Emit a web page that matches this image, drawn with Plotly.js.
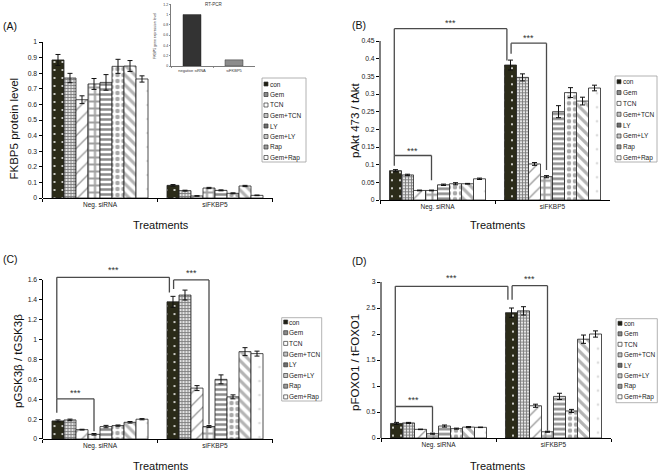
<!DOCTYPE html>
<html><head><meta charset="utf-8">
<script src="https://cdn.plot.ly/plotly-3.0.1.min.js"></script>
<style>html,body{margin:0;padding:0;background:#fff}#chart{width:660px;height:473px}</style>
</head><body><div id="chart"></div>
<script>
// ---------- data ----------
const categories = ['Neg. siRNA', 'siFKBP5'];
const treatments = ['con', 'Gem', 'TCN', 'Gem+TCN', 'LY', 'Gem+LY', 'Rap', 'Gem+Rap'];

const fkbp5Neg    = [0.885, 0.769, 0.630, 0.731, 0.741, 0.844, 0.846, 0.763];
const fkbp5NegErr = [0.035, 0.030, 0.025, 0.035, 0.050, 0.045, 0.035, 0.020];
const fkbp5Si     = [0.081, 0.047, 0.013, 0.064, 0.049, 0.030, 0.077, 0.017];
const fkbp5SiErr  = [0.005, 0.003, 0.002, 0.004, 0.003, 0.003, 0.004, 0.002];

const paktNeg    = [0.083, 0.071, 0.027, 0.027, 0.043, 0.046, 0.046, 0.060];
const paktNegErr = [0.003, 0.002, 0.001, 0.001, 0.002, 0.003, 0.001, 0.002];
const paktSi     = [0.382, 0.347, 0.102, 0.066, 0.250, 0.304, 0.280, 0.317];
const paktSiErr  = [0.014, 0.010, 0.004, 0.003, 0.017, 0.014, 0.011, 0.008];

const gskNeg    = [0.182, 0.192, 0.094, 0.047, 0.125, 0.135, 0.168, 0.199];
const gskNegErr = [0.010, 0.008, 0.004, 0.008, 0.012, 0.006, 0.008, 0.006];
const gskSi     = [1.380, 1.448, 0.512, 0.125, 0.600, 0.424, 0.879, 0.859];
const gskSiErr  = [0.055, 0.050, 0.025, 0.010, 0.045, 0.020, 0.040, 0.025];

const foxoNeg    = [0.280, 0.290, 0.166, 0.083, 0.230, 0.180, 0.210, 0.205];
const foxoNegErr = [0.020, 0.010, 0.005, 0.010, 0.020, 0.010, 0.010, 0.005];
const foxoSi     = [2.410, 2.445, 0.620, 0.120, 0.800, 0.520, 1.900, 2.000];
const foxoSiErr  = [0.090, 0.080, 0.030, 0.010, 0.060, 0.030, 0.080, 0.060];

const rtLabels = ['negative siRNA', 'siFKBP5'];
const rtValues = [1.0, 0.12];

const ticksA = [0, 0.1, 0.2, 0.3, 0.4, 0.5, 0.6, 0.7, 0.8, 0.9, 1];
const ticksB = [0, 0.05, 0.1, 0.15, 0.2, 0.25, 0.3, 0.35, 0.4, 0.45];
const ticksC = [0, 0.2, 0.4, 0.6, 0.8, 1, 1.2, 1.4, 1.6];
const ticksD = [0, 0.5, 1, 1.5, 2, 2.5, 3];
const ticksRT = [0, 0.2, 0.4, 0.6, 0.8, 1, 1.2];

// ---------- styles / layout helpers ----------
const W = 660, H = 473;
const px = x => x / W, py = y => 1 - y / H;
const FONT = 'Arial, "Liberation Sans", sans-serif';
const BARGAP = 0.165;

const barStyles = [
  {shape: '.', fg: '#ffffff', bg: '#2b2b19', size: 8, sol: 0.05},
  {shape: '+', fg: '#7a7a7a', bg: '#e4e4e4', size: 3, sol: 0.5},
  {shape: '/', fg: '#9a9a9a', bg: '#ffffff', size: 9, sol: 0.15},
  {shape: '+', fg: '#a0a0a0', bg: '#ffffff', size: 7, sol: 0.5},
  {shape: '-', fg: '#8a8a8a', bg: '#ffffff', size: 5, sol: 0.5},
  {shape: '.', fg: '#a8a8a8', bg: '#ffffff', size: 6, sol: 0.45},
  {shape: '\\', fg: '#b4b4b4', bg: '#ffffff', size: 7, sol: 0.45},
  {shape: '.', fg: '#dddddd', bg: '#ffffff', size: 14, sol: 0.03}
];
const swatchColors = ['#1e1e12', '#8a8a8a', '#ffffff', '#c4c4c4', '#6e6e6e', '#c8c8c8', '#9a9a9a', '#ffffff'];

const panels = [
  {ax: '', tag: '(A)', neg: fkbp5Neg, negErr: fkbp5NegErr, si: fkbp5Si, siErr: fkbp5SiErr,
   ticks: ticksA, xPx: [42.5, 272.5], y0: 198, ppu: 156, top: 1.0,
   ytitle: 'FKBP5 protein level', ytPos: [13.5, 129], tagPos: [9.5, 26], trPos: [161, 225],
   leg: {L: 262, R: 306, T: 78, B: 162, y0: 84, dy: 10.5}, brackets: []},
  {ax: '2', tag: '(B)', neg: paktNeg, negErr: paktNegErr, si: paktSi, siErr: paktSiErr,
   ticks: ticksB, xPx: [380, 610], y0: 200, ppu: 353.3, top: 0.52,
   ytitle: 'pAkt 473 / tAkt', ytPos: [355, 120], tagPos: [359, 25], trPos: [497.5, 225],
   leg: {L: 615, R: 657, T: 76, B: 162, y0: 81.7, dy: 10.86},
   brackets: [
     {a: [0, 0, -0.1], b: [0, 3, 0], ya: 0.097, yt: 0.126, yb: 0.056, ly: 0.140},
     {a: [0, 0, -0.1], b: [1, 0, -0.3], ya: 0.126, yt: 0.485, yb: 0.395, ly: 0.502},
     {a: [1, 0, 0.05], b: [1, 3, 0], ya: 0.414, yt: 0.444, yb: 0.085, ly: 0.458}
   ]},
  {ax: '3', tag: '(C)', neg: gskNeg, negErr: gskNegErr, si: gskSi, siErr: gskSiErr,
   ticks: ticksC, xPx: [42.5, 272.5], y0: 439, ppu: 99.4, top: 1.78,
   ytitle: 'pGSK3β / tGSK3β', ytPos: [18, 361], tagPos: [10, 259], trPos: [161, 466],
   leg: {L: 281.7, R: 321.7, T: 317.7, B: 401, y0: 322, dy: 10.7},
   brackets: [
     {a: [0, 0, -0.1], b: [0, 3, 0], ya: 0.263, yt: 0.404, yb: 0.077, ly: 0.465},
     {a: [0, 0, -0.1], b: [1, 0, -0.3], ya: 0.404, yt: 1.627, yb: 1.475, ly: 1.70},
     {a: [1, 0, 0.05], b: [1, 3, 0], ya: 1.51, yt: 1.60, yb: 0.145, ly: 1.667}
   ]},
  {ax: '4', tag: '(D)', neg: foxoNeg, negErr: foxoNegErr, si: foxoSi, siErr: foxoSiErr,
   ticks: ticksD, xPx: [381, 611], y0: 438, ppu: 52, top: 3.2,
   ytitle: 'pFOXO1 / tFOXO1', ytPos: [355, 363], tagPos: [359.5, 261], trPos: [497.5, 466],
   leg: {L: 616, R: 657.3, T: 318.7, B: 402.7, y0: 323.3, dy: 10.5},
   brackets: [
     {a: [0, 0, -0.1], b: [0, 3, 0], ya: 0.30, yt: 0.606, yb: 0.108, ly: 0.734},
     {a: [0, 0, -0.1], b: [1, 0, -0.3], ya: 0.606, yt: 2.916, yb: 2.66, ly: 3.076},
     {a: [1, 0, 0.05], b: [1, 3, 0], ya: 2.66, yt: 2.93, yb: 0.14, ly: 3.06}
   ]}
];

const nT = treatments.length;
const bw = (1 - BARGAP) / nT;
function barX(cat, i, dx) { return cat - (1 - BARGAP) / 2 + (i + 0.5) * bw + (dx || 0) * bw; }

const traces = [];
const shapes = [];
const annotations = [];
const layout = {
  width: W, height: H, autosize: false,
  margin: {l: 0, r: 0, t: 0, b: 0, pad: 0},
  paper_bgcolor: '#ffffff', plot_bgcolor: '#ffffff',
  font: {family: FONT, color: '#111111', size: 7},
  showlegend: false,
  barmode: 'group', bargap: BARGAP, bargroupgap: 0
};

panels.forEach(p => {
  const xa = 'x' + p.ax, ya = 'y' + p.ax;
  const xKey = 'xaxis' + p.ax, yKey = 'yaxis' + p.ax;
  const topPx = p.y0 - p.top * p.ppu;
  layout[xKey] = {
    domain: [px(p.xPx[0]), px(p.xPx[1])], anchor: ya, type: 'category',
    showline: true, linecolor: '#000', linewidth: 1, showgrid: false, zeroline: false,
    ticks: 'outside', tickson: 'boundaries', ticklen: 3, tickcolor: '#000', tickwidth: 1,
    tickfont: {size: 6.5, color: '#222', family: FONT}, fixedrange: true
  };
  layout[yKey] = {
    domain: [py(p.y0), py(topPx)], anchor: xa, range: [0, p.top],
    showline: false, showgrid: false, zeroline: false,
    tickmode: 'array', tickvals: p.ticks,
    ticks: 'outside', ticklen: 3, tickcolor: '#000', tickwidth: 1,
    tickfont: {size: 6.8, color: '#222', family: FONT}, fixedrange: true
  };
  // y axis line up to top tick
  shapes.push({type: 'line', xref: xa + ' domain', yref: ya, x0: 0, x1: 0,
    y0: 0, y1: p.ticks[p.ticks.length - 1], line: {color: '#000', width: 1}});

  treatments.forEach((t, i) => {
    const s = barStyles[i];
    traces.push({
      type: 'bar', name: t, x: categories, y: [p.neg[i], p.si[i]],
      xaxis: xa, yaxis: ya,
      marker: {color: s.bg, line: {color: '#222', width: 0.8},
        pattern: {shape: s.shape, fgcolor: s.fg, bgcolor: s.bg, size: s.size, solidity: s.sol, fillmode: 'replace'}},
      error_y: {type: 'data', array: [p.negErr[i], p.siErr[i]], visible: true, color: '#111', thickness: 1, width: 2.5},
      hoverinfo: 'skip'
    });
  });

  // significance brackets
  p.brackets.forEach(b => {
    const xA = barX(b.a[0], b.a[1], b.a[2]);
    const xB = barX(b.b[0], b.b[1], b.b[2]);
    const ln = {color: '#4a4a4a', width: 1.3};
    shapes.push({type: 'line', xref: xa, yref: ya, x0: xA, x1: xA, y0: b.ya, y1: b.yt, line: ln});
    shapes.push({type: 'line', xref: xa, yref: ya, x0: xA, x1: xB, y0: b.yt, y1: b.yt, line: ln});
    shapes.push({type: 'line', xref: xa, yref: ya, x0: xB, x1: xB, y0: b.yt, y1: b.yb, line: ln});
    annotations.push({xref: xa, yref: ya, x: (xA + xB) / 2, y: b.ly, text: '***', showarrow: false,
      xanchor: 'center', yanchor: 'middle', font: {size: 9, color: '#333', family: FONT}});
  });

  // titles and tags
  annotations.push({xref: 'paper', yref: 'paper', x: px(p.ytPos[0]), y: py(p.ytPos[1]), text: p.ytitle,
    textangle: -90, showarrow: false, xanchor: 'center', yanchor: 'middle',
    font: {size: 11.5, color: '#111', family: FONT}});
  annotations.push({xref: 'paper', yref: 'paper', x: px(p.tagPos[0]), y: py(p.tagPos[1]), text: p.tag,
    showarrow: false, xanchor: 'center', yanchor: 'middle', font: {size: 10.5, color: '#111', family: FONT}});
  annotations.push({xref: 'paper', yref: 'paper', x: px(p.trPos[0]), y: py(p.trPos[1]), text: 'Treatments',
    showarrow: false, xanchor: 'center', yanchor: 'middle', font: {size: 11, color: '#111', family: FONT}});

  // legend box
  const L = p.leg;
  shapes.push({type: 'rect', xref: 'paper', yref: 'paper', x0: px(L.L), x1: px(L.R), y0: py(L.B), y1: py(L.T),
    line: {color: '#a0a0a0', width: 0.8}, fillcolor: '#ffffff'});
  treatments.forEach((t, i) => {
    const yc = L.y0 + i * L.dy;
    shapes.push({type: 'rect', xref: 'paper', yref: 'paper', x0: px(L.L + 2), x1: px(L.L + 6),
      y0: py(yc + 2), y1: py(yc - 2), line: {color: '#333', width: 0.7}, fillcolor: swatchColors[i]});
    annotations.push({xref: 'paper', yref: 'paper', x: px(L.L + 6.5), y: py(yc), text: t, showarrow: false,
      xanchor: 'left', yanchor: 'middle', borderpad: 0, font: {size: 6.5, color: '#222', family: FONT}});
  });
});

// ---------- inset RT-PCR ----------
layout.xaxis5 = {
  domain: [px(171), px(255)], anchor: 'y5', type: 'category',
  showline: true, linecolor: '#444', linewidth: 0.7, showgrid: false, zeroline: false,
  ticks: 'outside', tickson: 'boundaries', ticklen: 1.5, tickcolor: '#444', tickwidth: 0.6,
  tickfont: {size: 4, color: '#333', family: FONT}, fixedrange: true
};
layout.yaxis5 = {
  domain: [py(66), py(4.3)], anchor: 'x5', range: [0, 1.2],
  showline: true, linecolor: '#444', linewidth: 0.7, showgrid: false, zeroline: false,
  tickmode: 'array', tickvals: ticksRT,
  ticks: 'outside', ticklen: 1.5, tickcolor: '#444', tickwidth: 0.6,
  tickfont: {size: 3.5, color: '#333', family: FONT}, fixedrange: true
};
traces.push({
  type: 'bar', x: rtLabels, y: rtValues, xaxis: 'x5', yaxis: 'y5', width: 0.43,
  marker: {color: ['#333333', '#8c8c8c'], line: {color: '#222', width: 0.4}}, hoverinfo: 'skip'
});
annotations.push({xref: 'paper', yref: 'paper', x: px(213), y: py(4.5), text: 'RT-PCR', showarrow: false,
  xanchor: 'center', yanchor: 'middle', font: {size: 4.5, color: '#333', family: FONT}});
annotations.push({xref: 'paper', yref: 'paper', x: px(155), y: py(36), text: 'FKBP5 gene expression level',
  textangle: -90, showarrow: false, xanchor: 'center', yanchor: 'middle', font: {size: 3.5, color: '#333', family: FONT}});

layout.shapes = shapes;
layout.annotations = annotations;

Plotly.newPlot('chart', traces, layout, {staticPlot: true, displayModeBar: false});
</script>
</body></html>
